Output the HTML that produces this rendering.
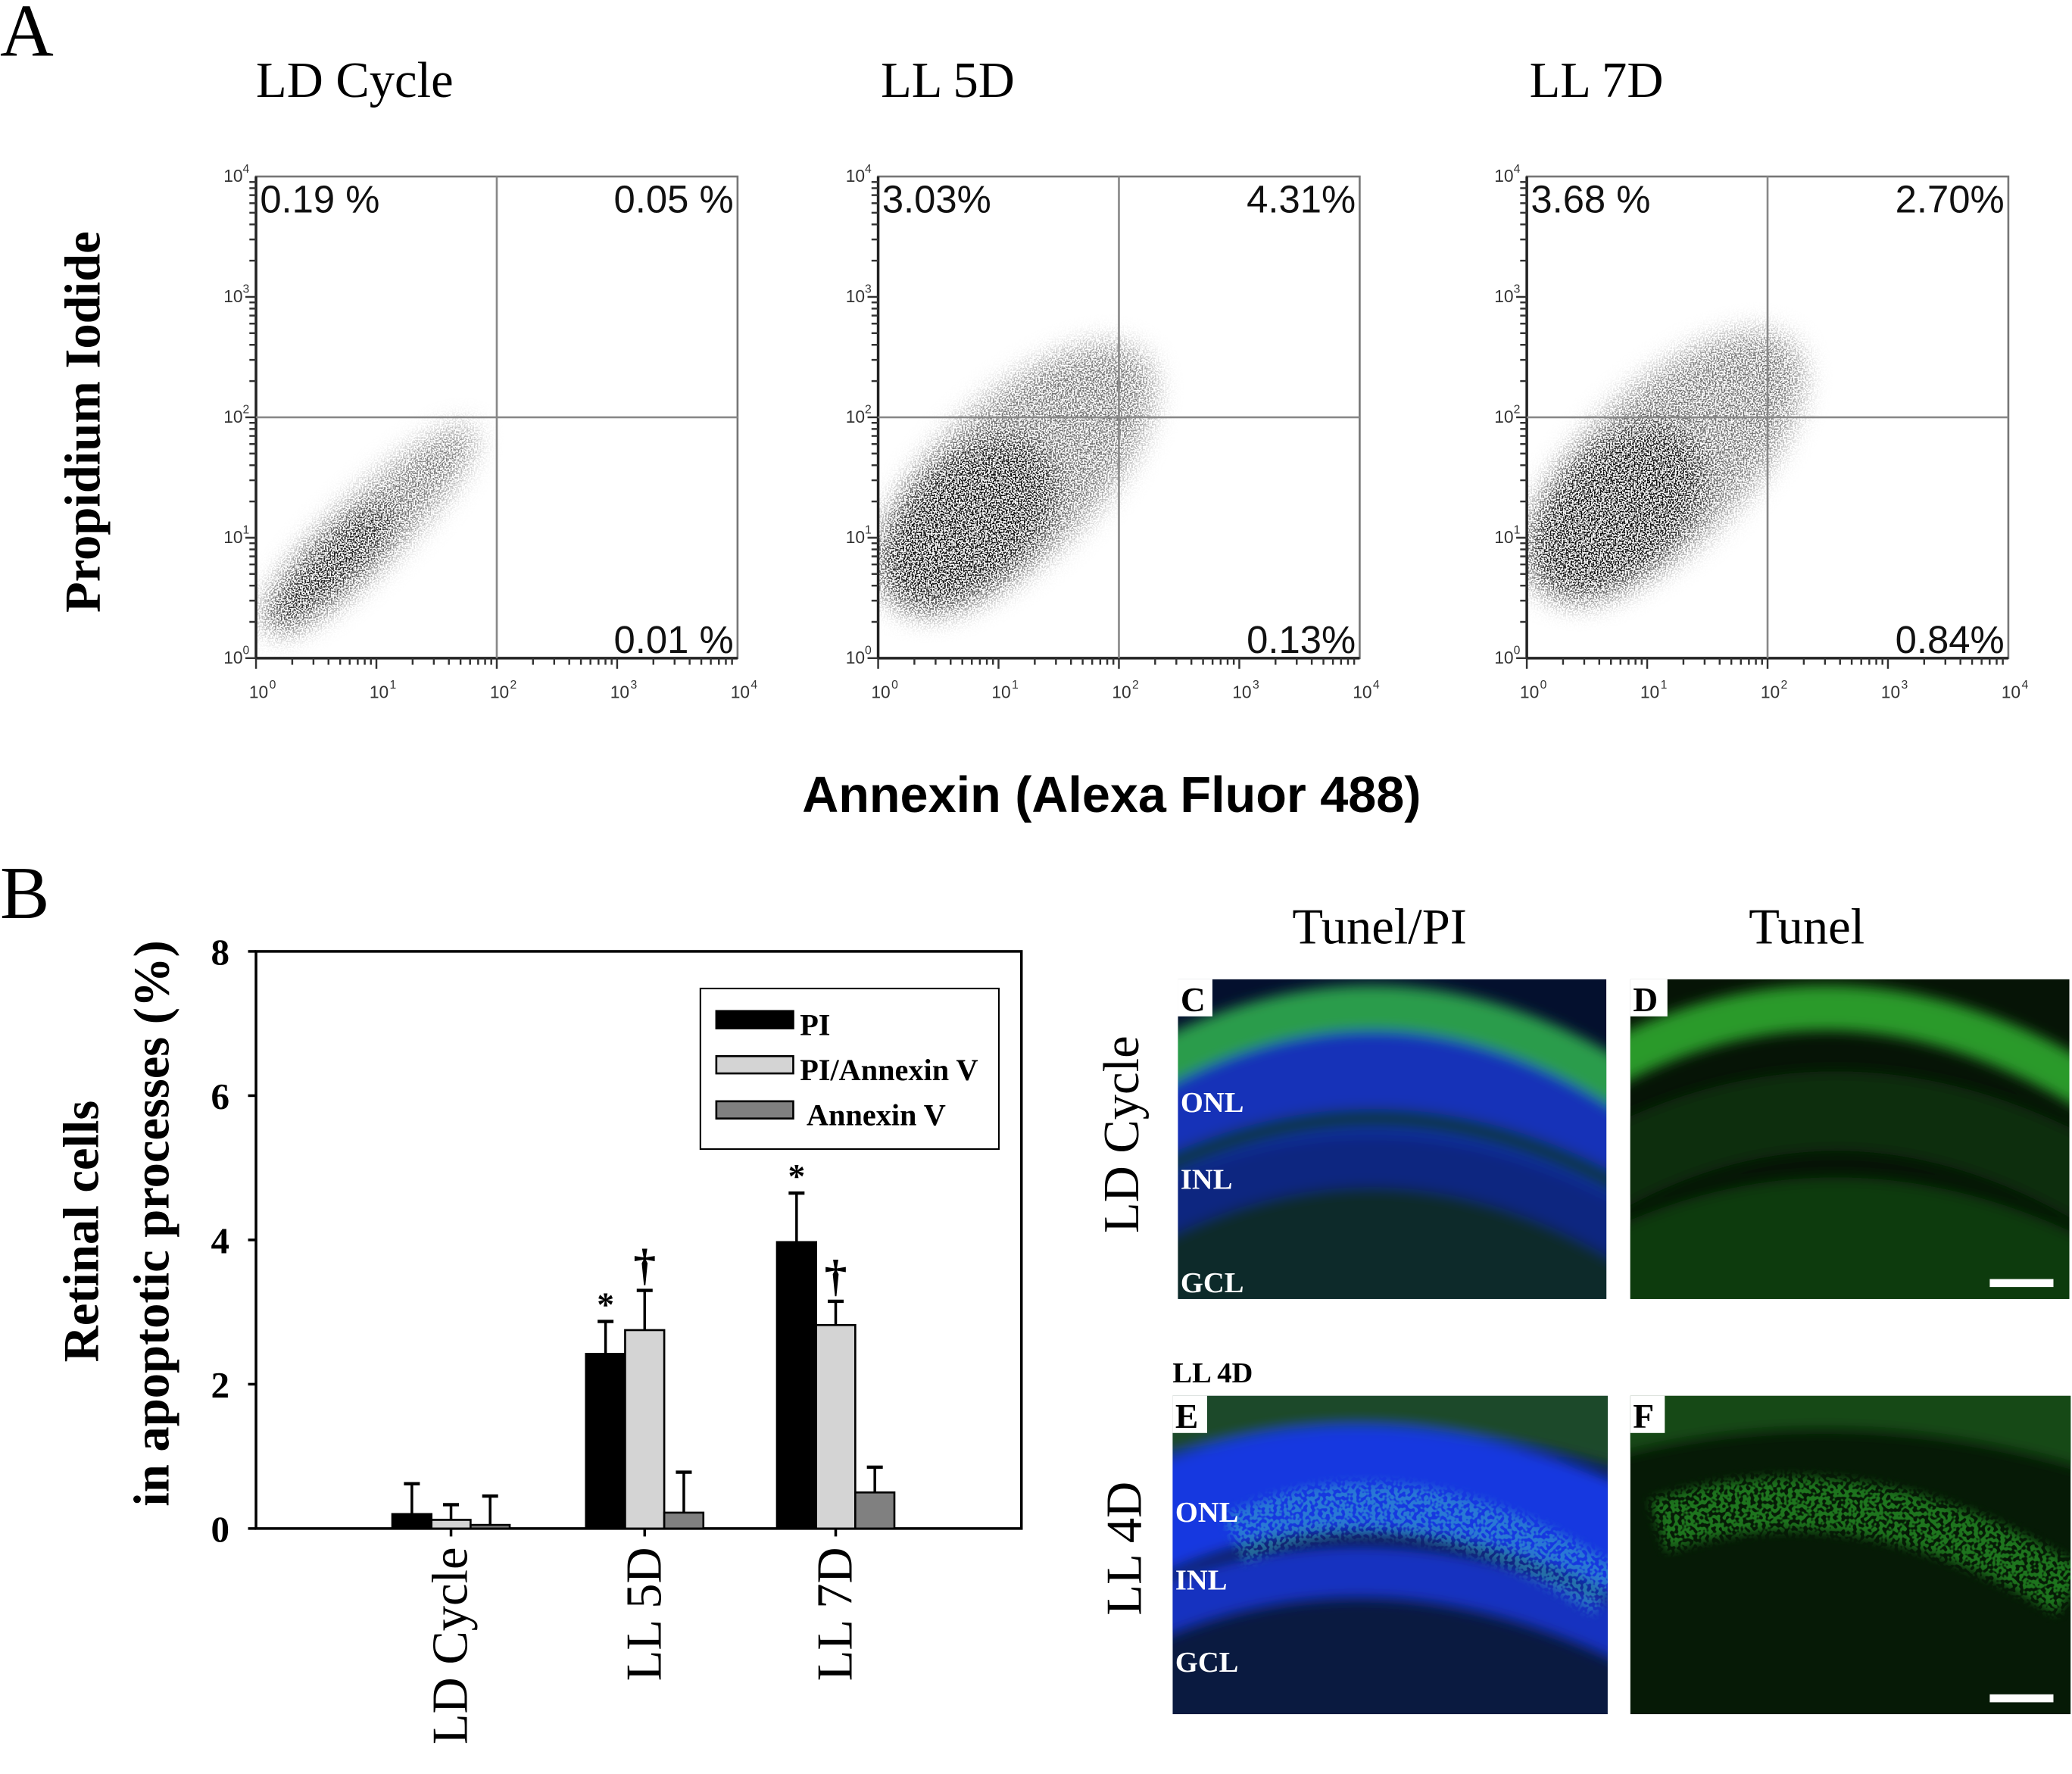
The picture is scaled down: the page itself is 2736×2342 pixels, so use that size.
<!DOCTYPE html>
<html><head><meta charset="utf-8"><style>
html,body{margin:0;padding:0;background:#fff}
svg{display:block}
.serif{font-family:"Liberation Serif",serif}
.sans{font-family:"Liberation Sans",sans-serif}
</style></head><body>
<svg id="fig" width="2736" height="2342" viewBox="0 0 1562 1337" xmlns="http://www.w3.org/2000/svg">
<defs>
<filter id="speck" filterUnits="userSpaceOnUse" x="0" y="0" width="1562" height="1337">
<feGaussianBlur in="SourceGraphic" stdDeviation="10" result="b"/>
<feTurbulence type="fractalNoise" baseFrequency="0.9" numOctaves="1" seed="4" result="n"/>
<feColorMatrix in="n" type="matrix" values="0 0 0 0 0 0 0 0 0 0 0 0 0 0 0 0 0 0 -7 3.9" result="m"/>
<feComposite in="b" in2="m" operator="in"/>
</filter>
<filter id="gspeck" filterUnits="userSpaceOnUse" x="0" y="0" width="1562" height="1337">
<feGaussianBlur in="SourceGraphic" stdDeviation="4" result="b"/>
<feTurbulence type="fractalNoise" baseFrequency="0.35" numOctaves="1" seed="9" result="n"/>
<feColorMatrix in="n" type="matrix" values="0 0 0 0 0 0 0 0 0 0 0 0 0 0 0 0 0 0 -9 5.2" result="m"/>
<feComposite in="b" in2="m" operator="in"/>
</filter>
<filter id="blur2" filterUnits="userSpaceOnUse" x="0" y="0" width="1562" height="1337"><feGaussianBlur stdDeviation="5"/></filter>
<clipPath id="cC"><rect x="888" y="738" width="323" height="241"/></clipPath>
<clipPath id="cD"><rect x="1229" y="738" width="331" height="241"/></clipPath>
<clipPath id="cE"><rect x="884" y="1052" width="328" height="240"/></clipPath>
<clipPath id="cF"><rect x="1229" y="1052" width="332" height="240"/></clipPath>
</defs>
<rect width="1562" height="1337" fill="#fff"/>

<text x="0" y="42" class="serif" font-size="56">A</text>
<g id="flow"></g>
<text transform="translate(75,318) rotate(-90)" text-anchor="middle" class="serif" font-weight="bold" font-size="38">Propidium Iodide</text>
<text x="838" y="612" text-anchor="middle" class="sans" font-weight="bold" font-size="38">Annexin (Alexa Fluor 488)</text>

<text x="0" y="692" class="serif" font-size="56">B</text>
<text transform="translate(74,928) rotate(-90)" text-anchor="middle" class="serif" font-weight="bold" font-size="38">Retinal cells</text>
<text transform="translate(127,922) rotate(-90)" text-anchor="middle" class="serif" font-weight="bold" font-size="38">in apoptotic processes (%)</text>
<g id="bars"></g>

<text x="1040" y="711" text-anchor="middle" class="serif" font-size="38">Tunel/PI</text>
<text x="1362" y="711" text-anchor="middle" class="serif" font-size="38">Tunel</text>
<text transform="translate(858,855) rotate(-90)" text-anchor="middle" class="serif" font-size="38">LD Cycle</text>
<text transform="translate(860,1167) rotate(-90)" text-anchor="middle" class="serif" font-size="38">LL 4D</text>
<text x="884" y="1042" class="serif" font-weight="bold" font-size="22">LL 4D</text>

<g clip-path="url(#cC)">
<rect x="888" y="738" width="323" height="241" fill="#04102e"/>
<g filter="url(#blur2)">
<path d="M860 860 Q1050 750 1240 880" stroke="#1232b8" stroke-width="90" fill="none"/>
<path d="M860 1000 Q1050 880 1240 1010" stroke="#0b2a2a" stroke-width="110" fill="none"/>
<path d="M860 920 Q1050 820 1240 940" stroke="#0c2880" stroke-width="40" fill="none"/>
<path d="M860 810 Q1050 700 1240 830" stroke="#2a9c4c" stroke-width="34" fill="none"/>
<path d="M860 888 Q1050 790 1240 905" stroke="#0e3540" stroke-width="14" fill="none"/>
</g>
</g>
<g clip-path="url(#cD)">
<rect x="1229" y="738" width="331" height="241" fill="#061406"/>
<g filter="url(#blur2)">
<path d="M1200 890 Q1390 780 1590 900" stroke="#0f2e0f" stroke-width="60" fill="none"/>
<path d="M1200 990 Q1390 880 1590 1000" stroke="#113a11" stroke-width="100" fill="none"/>
<path d="M1200 810 Q1390 700 1590 830" stroke="#2a9a2a" stroke-width="34" fill="none"/>
</g>
<rect x="1500" y="964" width="48" height="6" fill="#fff"/>
</g>
<g clip-path="url(#cE)">
<rect x="884" y="1052" width="328" height="240" fill="#0a1a40"/>
<g filter="url(#blur2)">
<path d="M860 1040 Q1040 990 1240 1050" stroke="#1e4a2c" stroke-width="120" fill="none"/>
<path d="M860 1150 Q1040 1070 1240 1170" stroke="#1438e0" stroke-width="80" fill="none"/>
<path d="M860 1220 Q1040 1140 1240 1240" stroke="#1230c0" stroke-width="40" fill="none"/>
</g>
<path d="M930 1160 Q1060 1100 1212 1200" stroke="#40c8c8" stroke-width="40" fill="none" opacity="0.45" filter="url(#gspeck)"/>
</g>
<g clip-path="url(#cF)">
<rect x="1229" y="1052" width="332" height="240" fill="#061a06"/>
<g filter="url(#blur2)">
<path d="M1200 1040 Q1390 990 1590 1050" stroke="#174a17" stroke-width="120" fill="none"/>
</g>
<path d="M1250 1150 Q1400 1100 1561 1200" stroke="#30c030" stroke-width="40" fill="none" opacity="0.55" filter="url(#gspeck)"/>
<rect x="1500" y="1277" width="48" height="6" fill="#fff"/>
</g>
<g class="serif" font-weight="bold" fill="#fff" font-size="22">
<rect x="888" y="738" width="26" height="28" fill="#fff"/><text x="890" y="762" fill="#000" font-size="26">C</text>
<rect x="1229" y="738" width="28" height="28" fill="#fff"/><text x="1231" y="762" fill="#000" font-size="26">D</text>
<rect x="884" y="1052" width="26" height="28" fill="#fff"/><text x="886" y="1076" fill="#000" font-size="26">E</text>
<rect x="1229" y="1052" width="26" height="28" fill="#fff"/><text x="1231" y="1076" fill="#000" font-size="26">F</text>
<text x="890" y="838">ONL</text>
<text x="890" y="896">INL</text>
<text x="890" y="974">GCL</text>
<text x="886" y="1147">ONL</text>
<text x="886" y="1198">INL</text>
<text x="886" y="1260">GCL</text>
</g>

<script>
const NS='http://www.w3.org/2000/svg';
function mk(tag,attrs,parent){const e=document.createElementNS(NS,tag);for(const k in attrs)e.setAttribute(k,attrs[k]);parent.appendChild(e);return e;}

// ---- Flow cytometry data ----
const flowTitles=['LD Cycle','LL 5D','LL 7D'];
const flowUL=['0.19 %','3.03%','3.68 %'];
const flowUR=['0.05 %','4.31%','2.70%'];
const flowLR=['0.01 %','0.13%','0.84%'];
const flowGateX=[2,2,2];
const flowGateY=[2,2,2];
const popX0=[0.1,0.1,0.1];
const popY0=[0.25,0.5,0.6];
const popX1=[1.8,2.2,2.2];
const popY1=[1.9,2.5,2.6];
const popWidth=[0.55,1.3,1.3];
const popDense=[0.85,0.95,0.95];
const flowLeft=[193,662,1151];
const flowW=363, flowTop=133, flowH=363;
const flow=document.getElementById('flow');
for(let i=0;i<3;i++){
  const L=flowLeft[i];
  const sx=d=>L+d/4*flowW, sy=d=>flowTop+flowH-d/4*flowH;
  const g=mk('g',{},flow);
  
  
  const t=mk('text',{x:L+(i==0?0:2),y:73,'class':'serif','font-size':38},g);t.textContent=flowTitles[i];
  
  
  const clip=mk('clipPath',{id:'fc'+i},g);
  mk('rect',{x:L,y:flowTop,width:flowW,height:flowH},clip);
  const cg=mk('g',{'clip-path':`url(#fc${i})`},g);
  const inner=mk('g',{filter:'url(#speck)'},cg);
  
  
  const x0=sx(popX0[i]),y0=sy(popY0[i]),x1=sx(popX1[i]),y1=sy(popY1[i]);
  const len=Math.hypot(x1-x0,y1-y0), ang=Math.atan2(y1-y0,x1-x0)*180/Math.PI;
  const w=popWidth[i]/4*flowW;
  const mx=(x0+x1)/2,my=(y0+y1)/2;
  mk('ellipse',{cx:mx,cy:my,rx:len/2,ry:w/2,fill:'#000',opacity:0.55,transform:`rotate(${ang} ${mx} ${my})`},inner);
  const cx=x0+(x1-x0)*0.3,cy=y0+(y1-y0)*0.3;
  mk('ellipse',{cx:cx,cy:cy,rx:len*0.3,ry:w*0.42,fill:'#000',opacity:popDense[i],transform:`rotate(${ang} ${cx} ${cy})`},inner);
  const fr=mk('rect',{x:L,y:flowTop,width:flowW,height:flowH,fill:'none',stroke:'#777','stroke-width':1.5},g);
  
  
  mk('line',{x1:L,y1:flowTop,x2:L,y2:flowTop+flowH,stroke:'#222','stroke-width':2},g);
  mk('line',{x1:L,y1:flowTop+flowH,x2:L+flowW,y2:flowTop+flowH,stroke:'#222','stroke-width':2},g);
  const gx=mk('line',{x1:sx(flowGateX[i]),y1:flowTop,x2:sx(flowGateX[i]),y2:flowTop+flowH,stroke:'#888','stroke-width':1.5},g);
  
  
  const gy=mk('line',{x1:L,y1:sy(flowGateY[i]),x2:L+flowW,y2:sy(flowGateY[i]),stroke:'#888','stroke-width':1.5},g);
  
  
  for(let d=0;d<=4;d++){
    const ly=mk('text',{x:L-10,y:sy(d)+4,'text-anchor':'end','class':'sans','font-size':13,fill:'#333'},g);ly.textContent='10';
    
    
    mk('text',{x:L-10,y:sy(d)-3,'class':'sans','font-size':9,fill:'#333'},g).textContent=String(d);
    const lx=mk('text',{x:sx(d)+2,y:flowTop+flowH+30,'text-anchor':'middle','class':'sans','font-size':13,fill:'#333'},g);lx.textContent='10';
    
    
    mk('text',{x:sx(d)+10,y:flowTop+flowH+23,'class':'sans','font-size':9,fill:'#333'},g).textContent=String(d);
    if(d<4){for(let m=1;m<10;m++){const f=d+Math.log10(m);
      mk('line',{x1:L-(m==1?8:5),y1:sy(f),x2:L,y2:sy(f),stroke:'#333','stroke-width':1.4},g);
      mk('line',{x1:sx(f),y1:flowTop+flowH,x2:sx(f),y2:flowTop+flowH+(m==1?8:5),stroke:'#333','stroke-width':1.4},g);}}
  }
  const q=[[flowUL[i],L+3,flowTop+27,'start','quadrant-ul-percent'],[flowUR[i],L+flowW-3,flowTop+27,'end','quadrant-ur-percent'],[flowLR[i],L+flowW-3,flowTop+flowH-4,'end','quadrant-lr-percent']];
  q.forEach(a=>{const e=mk('text',{x:a[1],y:a[2],'text-anchor':a[3],'class':'sans','font-size':29,fill:'#111'},g);e.textContent=a[0];
    
    });
}

// ---- Bar chart data ----
const categories=['LD Cycle','LL 5D','LL 7D'];
const piVals=[0.2,2.42,3.97];
const piErr=[0.42,0.45,0.68];
const piavVals=[0.12,2.75,2.82];
const piavErr=[0.21,0.55,0.33];
const avVals=[0.05,0.22,0.5];
const avErr=[0.4,0.56,0.35];
const yTicks=[0,2,4,6,8];
const piMarks=['','*','*'];
const piavMarks=['','†','†'];

const bx0=193,bx1=770,by0=1152,by1=717,yMax=8;
const ys=v=>by0-v/yMax*(by0-by1);
const catCenter=[340,486,630];
const xs=i=>catCenter[i];
const bw=29.5;
const bars=document.getElementById('bars');
const ax=mk('rect',{x:bx0,y:by1,width:bx1-bx0,height:by0-by1,fill:'none',stroke:'#000','stroke-width':2},bars);


yTicks.forEach(v=>{
  mk('line',{x1:bx0-6,y1:ys(v),x2:bx0,y2:ys(v),stroke:'#000','stroke-width':2},bars);
  const t=mk('text',{x:bx0-20,y:ys(v)+10,'text-anchor':'end','class':'serif','font-weight':'bold','font-size':28},bars);t.textContent=v;
  
  
});
const series=[[piVals,piErr,'#000',-1.5,'pi',piMarks],[piavVals,piavErr,'#d4d4d4',-0.5,'pi-annexin',piavMarks],[avVals,avErr,'#808080',0.5,'annexin',null]];
categories.forEach((c,i)=>{
  mk('line',{x1:xs(i),y1:by0,x2:xs(i),y2:by0+6,stroke:'#000','stroke-width':2},bars);
  const t=mk('text',{transform:`translate(${xs(i)+12},${by0+14}) rotate(-90)`,'text-anchor':'end','class':'serif','font-size':38},bars);t.textContent=c;
  
  
  series.forEach(s=>{
    const x=xs(i)+s[3]*bw, v=s[0][i], e=s[1][i];
    const cx=x+bw/2;
    mk('line',{x1:cx,y1:ys(v),x2:cx,y2:ys(v+e),stroke:'#000','stroke-width':2},bars);
    mk('line',{x1:cx-6,y1:ys(v+e),x2:cx+6,y2:ys(v+e),stroke:'#000','stroke-width':2.5},bars);
    const r=mk('rect',{x:x,y:ys(v),width:bw,height:by0-ys(v),fill:s[2],stroke:'#000','stroke-width':1.5},bars);
    
    
    if(s[5]&&s[5][i]){const m=mk('text',{x:cx,y:ys(v+e)-(s[5][i]=='*'?4:8),'text-anchor':'middle','class':'serif','font-weight':'bold','font-size':s[5][i]=='*'?26:34},bars);m.textContent=s[5][i];
      
      }
  });
});
const lg=mk('g',{},bars);


mk('rect',{x:528,y:745,width:225,height:121,fill:'#fff',stroke:'#000','stroke-width':1.2},lg);
[['PI','#000',769],['PI/Annexin V','#d4d4d4',803],['Annexin V','#808080',837]].forEach((l,k)=>{
  const sw=mk('rect',{x:540,y:l[2]-7,width:58,height:13,fill:l[1],stroke:'#000','stroke-width':1.5},lg);
  
  
  const t=mk('text',{x:k==2?608:603,y:l[2]+11,'class':'serif','font-weight':'bold','font-size':23},lg);t.textContent=l[0];
  
  
});
</script>
</svg>
</body></html>
